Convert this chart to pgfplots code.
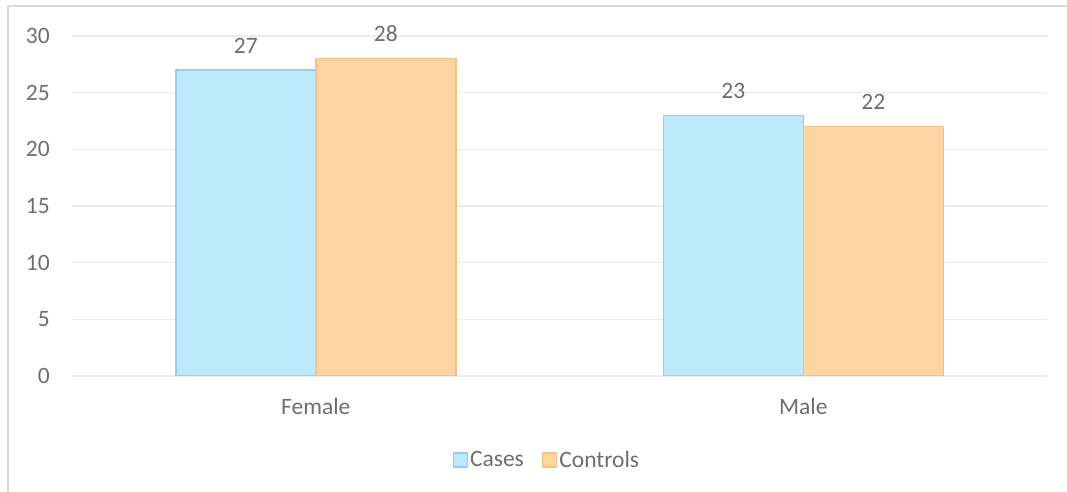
\documentclass[border=0pt]{standalone}
\usepackage{fontspec}
\setmainfont{Carlito}
\usepackage{pgfplots}
\pgfplotsset{compat=1.18}
\definecolor{casefill}{RGB}{189,233,252}
\definecolor{casedraw}{RGB}{150,205,248}
\definecolor{ctrlfill}{RGB}{253,213,160}
\definecolor{ctrldraw}{RGB}{249,190,140}
\definecolor{gridcol}{RGB}{235,235,235}
\definecolor{framecol}{RGB}{217,217,217}
\definecolor{txtcol}{RGB}{110,110,110}
\begin{document}
\begin{tikzpicture}[x=1pt,y=1pt]
\path[use as bounding box] (0,0) rectangle (1067,492);
\draw[framecol, line width=1.5pt] (8,0) -- (8,486) -- (1067,486);
\begin{axis}[
  at={(72pt,116pt)}, anchor=south west,
  scale only axis, width=975pt, height=340pt,
  xmin=-0.5, xmax=1.5, ymin=0, ymax=30,
  ytick={0,5,...,30},
  xtick={0,1}, xticklabels={Female,Male},
  /pgf/number format/assume math mode=true,
  axis line style={draw=none},
  major tick length=0pt,
  ymajorgrids, grid style={color=gridcol, line width=1.2pt},
  ybar=0pt, bar width=140pt,
  font=\fontsize{23.5}{27}\selectfont,
  tick label style={color=txtcol, font=\fontsize{23.5}{27}\selectfont},
  yticklabel style={inner sep=0pt, xshift=-22pt},
  xticklabel style={inner sep=0pt, anchor=base, yshift=-38pt},
  nodes near coords,
  every node near coord/.append style={color=txtcol, font=\fontsize{23.5}{27}\selectfont, inner sep=0pt, anchor=south, yshift=16pt},
  legend columns=2,
  legend style={draw=none, fill=none, at={(0.487,-0.247)}, anchor=center, font=\fontsize{23.5}{27}\selectfont, text=txtcol,
    /tikz/every even column/.append style={column sep=16pt}},
  legend image code/.code={\draw[#1, line width=1.5pt] (0pt,-7pt) rectangle (14pt,7pt);},
]
\addplot[fill=casefill, draw=casedraw, line width=1.5pt] coordinates {(0,27) (1,23)};
\addplot[fill=ctrlfill, draw=ctrldraw, line width=1.5pt] coordinates {(0,28) (1,22)};
\legend{Cases,Controls}
\end{axis}
\end{tikzpicture}
\end{document}
